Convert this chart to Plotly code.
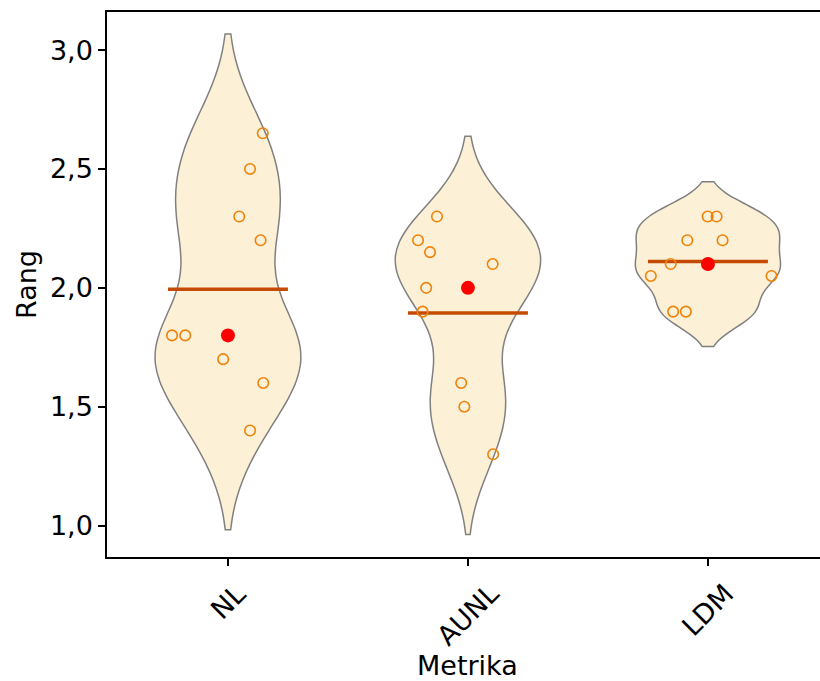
import numpy as np
import plotly.graph_objects as go

categories = ["NL", "AUNL", "LDM"]
nl_values = [2.65, 2.5, 2.3, 2.2, 1.8, 1.8, 1.7, 1.6, 1.4]
aunl_values = [2.3, 2.2, 2.15, 2.1, 2.0, 1.9, 1.6, 1.5, 1.3]
ldm_values = [2.3, 2.3, 2.2, 2.2, 2.1, 2.05, 2.05, 1.9, 1.9]
# horizontal jitter of the individual points (as drawn in the reference)
nl_jitter = [0.145, 0.092, 0.047, 0.136, -0.233, -0.178, -0.02, 0.147, 0.092]
aunl_jitter = [-0.129, -0.208, -0.158, 0.103, -0.174, -0.189, -0.028, -0.015, 0.105]
ldm_jitter = [-0.001, 0.036, -0.086, 0.061, -0.155, -0.238, 0.265, -0.145, -0.092]

y_ticks = [1.0, 1.5, 2.0, 2.5, 3.0]

series = [nl_values, aunl_values, ldm_values]
jitters = [nl_jitter, aunl_jitter, ldm_jitter]

FONT = "DejaVu Sans"
FS = 27
VIOLIN_FILL = "#FCF0D6"
POINT_COLOR = "#F0820A"
MEAN_COLOR = "#C44B00"

fig = go.Figure()

for i, vals in enumerate(series):
    v = np.array(vals, dtype=float)
    bw = 0.75 * len(v) ** (-0.2) * v.std(ddof=1)
    fig.add_trace(go.Violin(
        x=[i] * len(v), y=v,
        points=False, box_visible=False, meanline_visible=False,
        bandwidth=bw, spanmode="soft", width=0.604, scalemode="width",
        fillcolor=VIOLIN_FILL, opacity=1,
        line=dict(color="#808080", width=1.5),
        side="both", hoverinfo="skip", showlegend=False,
    ))

for i, vals in enumerate(series):
    v = np.array(vals, dtype=float)
    m = float(v.mean())
    fig.add_trace(go.Scatter(
        x=[i - 0.25, i + 0.25], y=[m, m], mode="lines",
        line=dict(color=MEAN_COLOR, width=3.5), showlegend=False, hoverinfo="skip",
    ))

for i, (vals, jit) in enumerate(zip(series, jitters)):
    fig.add_trace(go.Scatter(
        x=[i + j for j in jit], y=vals, mode="markers",
        marker=dict(symbol="circle-open", size=10.5, color=POINT_COLOR,
                    line=dict(width=1.6, color=POINT_COLOR)),
        showlegend=False, hoverinfo="skip",
    ))

for i, vals in enumerate(series):
    med = float(np.median(vals))
    fig.add_trace(go.Scatter(
        x=[i], y=[med], mode="markers",
        marker=dict(symbol="circle", size=14, color="#FF0000"),
        showlegend=False, hoverinfo="skip",
    ))

annotations = []
for i, c in enumerate(categories):
    annotations.append(dict(
        text=c, x=i, xref="x", y=0, yref="paper", xanchor="center", yanchor="top",
        yshift=-18, textangle=-45, showarrow=False,
        font=dict(family=FONT, size=FS, color="black"),
    ))
annotations.append(dict(
    text="Metrika", x=1, xref="x", y=0, yref="paper", xanchor="center", yanchor="top",
    yshift=-91, showarrow=False, font=dict(family=FONT, size=FS, color="black"),
))
annotations.append(dict(
    text="Rang", x=0, xref="paper", y=0.5, yref="paper", xanchor="left", yanchor="middle",
    xshift=-98, textangle=-90, showarrow=False, font=dict(family=FONT, size=FS, color="black"),
))

fig.update_layout(
    width=820, height=681,
    margin=dict(l=107, r=0, t=12, b=124),
    paper_bgcolor="white", plot_bgcolor="white",
    separators=", ",
    font=dict(family=FONT, size=FS, color="black"),
    violinmode="overlay",
    annotations=annotations,
    xaxis=dict(
        range=[-0.504, 2.467], tickvals=[0, 1, 2], showticklabels=False,
        ticks="outside", ticklen=7, tickwidth=1.5, tickcolor="black",
        showline=True, linecolor="black", linewidth=1.5, mirror=True,
        showgrid=False, zeroline=False,
    ),
    yaxis=dict(
        range=[0.868, 3.160], tickvals=y_ticks, tickformat=".1f",
        ticks="outside", ticklen=7, tickwidth=1.5, tickcolor="black",
        showline=True, linecolor="black", linewidth=1.5, mirror=False,
        showgrid=False, zeroline=False,
        tickfont=dict(family=FONT, size=FS, color="black"),
    ),
)

fig.write_html("out.html")
